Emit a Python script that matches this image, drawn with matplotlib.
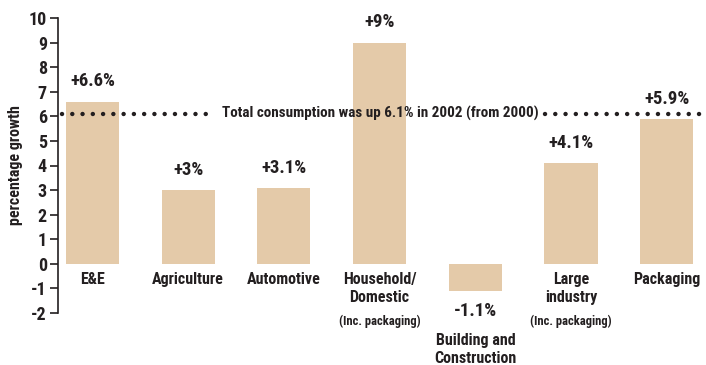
import matplotlib
matplotlib.use("Agg")
import matplotlib.pyplot as plt
from matplotlib import font_manager

categories = ["E&E", "Agriculture", "Automotive", "Household/\nDomestic",
              "Building and\nConstruction", "Large\nindustry", "Packaging"]
sub_notes = ["", "", "", "(Inc. packaging)", "", "(Inc. packaging)", ""]
growth = [6.6, 3.0, 3.1, 9.0, -1.1, 4.1, 5.9]
value_labels = ["+6.6%", "+3%", "+3.1%", "+9%", "-1.1%", "+4.1%", "+5.9%"]
total_growth = 6.1
total_text = "Total consumption was up 6.1% in 2002 (from 2000)"

# pick a narrow face if one is around
narrow = None
for name in ["Liberation Sans Narrow", "Roboto Condensed", "Open Sans Condensed",
             "DejaVu Sans Condensed"]:
    try:
        font_manager.findfont(font_manager.FontProperties(family=name),
                              fallback_to_default=False)
        narrow = name
        break
    except Exception:
        pass

plt.rcParams["font.family"] = [narrow, "DejaVu Sans"] if narrow else ["DejaVu Sans"]
plt.rcParams["font.weight"] = "bold"
plt.rcParams["font.stretch"] = "condensed"
plt.rcParams["axes.unicode_minus"] = False
TXT = "#231f20"
BAR = "#e4caa9"

fig = plt.figure(figsize=(7.06, 3.65), dpi=100)
ax = fig.add_axes([58 / 706, 1 - 313 / 365, 1 - 58 / 706, (313 - 18) / 365])

x = list(range(len(categories)))
ax.bar(x, growth, width=0.555, color=BAR, zorder=1)

ax.set_xlim(-0.36, 6.41)
ax.set_ylim(-2, 10)
ax.set_yticks(range(-2, 11))
ax.tick_params(axis="y", direction="out", length=6, width=1.2, colors=TXT,
               labelsize=13, pad=2)
ax.set_xticks([])
for s in ["top", "right", "bottom"]:
    ax.spines[s].set_visible(False)
ax.spines["left"].set_linewidth(1.2)
ax.spines["left"].set_color(TXT)
ax.set_ylabel("percentage growth", fontsize=11.5, fontweight="bold",
              color=TXT, labelpad=4)

# dotted reference line with a gap for the text
dots = dict(ls=(0, (0.01, 2.3)), lw=3.2, dash_capstyle="round", color=TXT, zorder=2)
ax.plot([-0.322, 1.19], [total_growth] * 2, **dots)
ax.plot([4.73, 6.41], [total_growth] * 2, **dots)
ax.text(3.005, total_growth, total_text, ha="center", va="center",
        fontsize=10.9, color=TXT, zorder=3)

for xi, v, lab in zip(x, growth, value_labels):
    if v >= 0:
        ax.annotate(lab, (xi, v), xytext=(0, 8), textcoords="offset points",
                    ha="center", va="bottom", fontsize=13.5, color=TXT)
    else:
        ax.annotate(lab, (xi, v), xytext=(0, -8), textcoords="offset points",
                    ha="center", va="top", fontsize=13.5, color=TXT)

for xi, v, cat, note in zip(x, growth, categories, sub_notes):
    if v >= 0:
        ax.annotate(cat, (xi, 0), xytext=(0, -6), textcoords="offset points",
                    ha="center", va="top", fontsize=11.5, color=TXT,
                    linespacing=1.25)
    else:
        ax.annotate(cat, (xi, v), xytext=(0, -30), textcoords="offset points",
                    ha="center", va="top", fontsize=11.5, color=TXT,
                    linespacing=1.25)
    if note:
        ax.annotate(note, (xi, 0), xytext=(0, -37), textcoords="offset points",
                    ha="center", va="top", fontsize=9, color=TXT)

fig.savefig("out.png", dpi=100)
